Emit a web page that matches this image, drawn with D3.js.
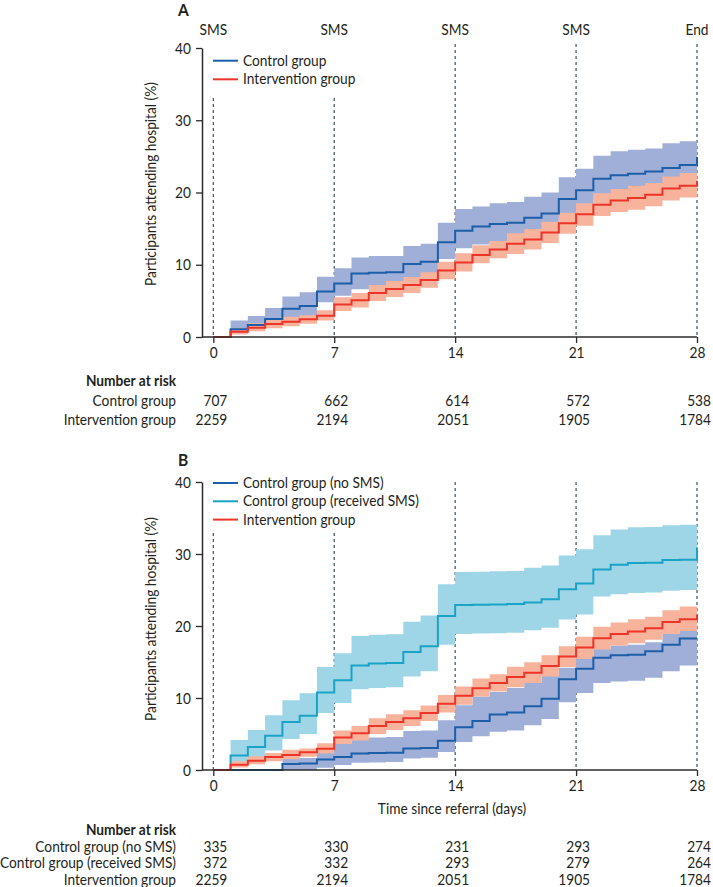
<!DOCTYPE html>
<html><head><meta charset="utf-8">
<script src="https://cdn.jsdelivr.net/npm/d3@7"></script>
<style>
body{margin:0;background:#fff;}
svg text{font-family:Lato,"Open Sans",Arial,sans-serif;fill:#231f20;}
</style></head>
<body>
<svg id="c" width="713" height="887"></svg>
<script>
// ---- data ----
const days = [0,1,2,3,4,5,6,7,8,9,10,11,12,13,14,15,16,17,18,19,20,21,22,23,24,25,26,27,28];
const tickDays = [0,7,14,21,28];
const yTicks = [0,10,20,30,40];
const topLabels = ["SMS","SMS","SMS","SMS","End"];

// Panel A: control group
const ctrl     = [0,1.07,1.66,2.5,3.9,4.3,6.3,7.4,8.8,8.9,8.95,10.1,10.4,13.1,14.7,15.3,15.65,15.8,16.5,17.1,19.1,20.3,21.9,22.4,22.6,22.9,23.4,23.8,24.9];
const ctrlHi   = [0,2.3,2.9,4.0,5.6,6.2,8.35,9.5,11.0,11.2,11.2,12.6,12.9,15.8,17.7,18.05,18.5,18.7,19.4,20.0,22.1,23.3,25.1,25.7,25.9,26.1,26.8,27.1,27.1];
const ctrlLo   = [0,0.5,0.9,1.5,2.35,2.7,4.8,5.7,6.6,6.7,6.8,7.6,7.9,10.8,12.3,12.8,13.1,13.3,14.0,14.5,16.4,17.6,19.0,19.5,19.7,20.0,20.4,20.8,20.8];
// Intervention group (both panels)
const interv   = [0,0.73,1.29,1.8,2.1,2.45,2.95,4.5,5.1,6.1,6.65,7.2,7.9,9.2,10.3,11.35,12.1,12.9,13.5,14.45,15.75,17.0,18.3,18.9,19.25,19.7,20.55,20.95,21.6];
const intervHi = [0,1.2,1.9,2.35,2.8,3.0,3.7,5.5,6.1,7.2,7.75,8.3,8.95,10.4,11.6,12.7,13.3,14.35,14.95,15.95,17.2,18.5,19.9,20.5,20.95,21.3,22.2,22.7,22.7];
const intervLo = [0,0.35,0.8,1.2,1.5,1.85,2.3,3.6,4.1,5.0,5.55,6.1,6.8,8.0,9.05,10.2,10.9,11.5,12.1,13.0,14.3,15.4,16.75,17.3,17.6,18.1,18.9,19.3,19.3];
// Panel B: control group, no SMS
const noSms    = [0,0,0,0,0.85,0.9,1.45,1.8,2.3,2.35,2.4,3.0,3.05,4.05,5.95,6.8,7.7,8.0,8.85,9.9,12.6,14.05,15.6,15.95,16.0,16.5,17.4,18.25,18.25];
const noSmsHi  = [0,0,0,0,1.6,1.65,2.5,3.7,4.3,4.5,4.6,5.4,5.5,6.9,9.0,10.2,10.85,11.4,12.1,13.1,14.2,15.5,16.8,17.3,17.4,17.75,19.05,19.4,19.4];
const noSmsLo  = [0,0,0,0,0,0,0.3,0.7,1.0,1.05,1.1,1.6,1.7,2.5,3.9,4.7,5.3,5.5,6.2,7.1,9.4,10.7,12.1,12.3,12.4,12.8,13.7,14.5,14.5];
// Panel B: control group, received SMS
const rcvSms   = [0,2.0,3.2,4.75,6.65,7.55,10.75,12.45,14.5,14.8,14.85,16.4,17.2,21.4,22.9,22.95,23.0,23.05,23.25,23.7,25.1,25.9,27.85,28.5,28.75,28.8,29.15,29.2,30.9];
const rcvSmsHi = [0,4.15,5.55,7.6,9.7,10.65,14.3,16.2,18.6,18.8,18.85,20.6,21.45,25.8,27.5,27.55,27.6,27.65,28.1,28.4,29.8,30.65,32.6,33.4,33.7,33.75,34.0,34.05,34.05];
const rcvSmsLo = [0,0.8,1.8,2.7,4.3,5.0,7.9,9.3,11.2,11.4,11.5,13.0,13.7,17.4,18.9,18.95,19.0,19.05,19.4,19.75,20.9,21.6,24.1,24.4,24.6,24.65,24.9,25.0,25.0];

// Number at risk
const riskA_labels = ["Control group","Intervention group"];
const riskA = [[707,662,614,572,538],[2259,2194,2051,1905,1784]];
const riskB_labels = ["Control group (no SMS)","Control group (received SMS)","Intervention group"];
const riskB = [[335,330,231,293,274],[372,332,293,279,264],[2259,2194,2051,1905,1784]];

// ---- drawing ----
const svg = d3.select("#c");
const FS = 15;
const probe = svg.append("text").attr("font-size",FS).text("Control group");
const SX = 83.5 / probe.node().getComputedTextLength();
probe.remove();

function txt(g, x, y, s, anchor, extra){
  return g.append("text").attr("transform",`translate(${x},${y})${extra||""} scale(${SX},1)`)
    .attr("text-anchor",anchor||"start").attr("font-size",FS).text(s);
}

const x = d3.scaleLinear().domain([0,28]).range([213.3,697]);
const AX = 202;
const C = {
  blue:"#1c5ea8", blueBand:"#9fafd8",
  red:"#ec3528", redBand:"#f8b39d",
  cyan:"#1aa3c6", cyanBand:"#9ed6e7",
  dash:"#3d505c", axis:"#2b2b2b"
};

function panel(opt){
  const y = d3.scaleLinear().domain([0,40]).range([opt.y0, opt.y40]);
  const g = svg.append("g");
  txt(g,178,opt.letterY,opt.letter).attr("font-size",17).attr("font-weight","bold");
  tickDays.forEach((d,i)=>{
    const top = (i<2) ? opt.dashTopLow : opt.dashTop;
    g.append("line").attr("x1",x(d)).attr("x2",x(d)).attr("y1",top).attr("y2",opt.y0)
      .attr("stroke",C.dash).attr("stroke-width",1.2).attr("stroke-dasharray","3,3");
  });
  if(opt.topLabels){
    tickDays.forEach((d,i)=> txt(g,x(d),35,topLabels[i],"middle"));
  }
  opt.series.forEach(s=>{
    const area = d3.area().x((d,i)=>x(days[i])).y0((d,i)=>y(s.lo[i])).y1((d,i)=>y(s.hi[i])).curve(d3.curveStepAfter);
    g.append("path").datum(s.v).attr("d",area).attr("fill",s.band);
  });
  opt.series.forEach(s=>{
    const line = d3.line().x((d,i)=>x(days[i])).y(d=>y(d)).curve(d3.curveStepAfter);
    g.append("path").datum(s.v).attr("d",line).attr("fill","none").attr("stroke",s.color).attr("stroke-width",2);
  });
  const ya = g.append("g").attr("transform",`translate(${AX},0)`)
    .call(d3.axisLeft(y).tickValues(yTicks).tickSize(6).tickSizeOuter(0));
  ya.select(".domain").attr("stroke",C.axis).attr("stroke-width",1.5);
  ya.selectAll(".tick line").attr("stroke",C.axis).attr("stroke-width",1.3);
  ya.selectAll(".tick text").each(function(){
    const s=d3.select(this).text(); const p=this.parentNode;
    d3.select(this).remove(); txt(d3.select(p),-11,5,s,"end");
  });
  const xa = g.append("g").attr("transform",`translate(0,${opt.y0})`)
    .call(d3.axisBottom(x).tickValues(tickDays).tickSize(6).tickSizeOuter(0));
  xa.select(".domain").remove();
  xa.selectAll(".tick line").attr("stroke",C.axis).attr("stroke-width",1.3);
  xa.selectAll(".tick text").each(function(){
    const s=d3.select(this).text(); const p=this.parentNode;
    d3.select(this).remove(); txt(d3.select(p),0,21,s,"middle");
  });
  g.append("line").attr("x1",AX).attr("x2",697).attr("y1",opt.y0).attr("y2",opt.y0).attr("stroke",C.axis).attr("stroke-width",1.5);
  txt(g,156,opt.titleY,"Participants attending hospital (%)","middle"," rotate(-90)");
  opt.series.forEach((s,i)=>{
    const ly = opt.legY + i*opt.legStep;
    g.append("line").attr("x1",213).attr("x2",238).attr("y1",ly).attr("y2",ly).attr("stroke",s.color).attr("stroke-width",2);
    txt(g,243,ly+5,s.name);
  });
  txt(g,176,opt.riskY,"Number at risk","end").attr("font-weight","bold");
  opt.riskLabels.forEach((lab,r)=>{
    const ry = opt.riskY + opt.rowH*(r+1);
    txt(g,176,ry,lab,"end");
    opt.risk[r].forEach((n,k)=> txt(g,x(tickDays[k])+14,ry,n,"end"));
  });
  return y;
}

panel({letter:"A", letterY:16, y0:337, y40:48, dashTop:44, dashTopLow:98, topLabels:true,
  legY:60.7, legStep:18.6, titleY:184,
  series:[
    {name:"Control group", v:ctrl, hi:ctrlHi, lo:ctrlLo, color:C.blue, band:C.blueBand},
    {name:"Intervention group", v:interv, hi:intervHi, lo:intervLo, color:C.red, band:C.redBand}
  ],
  riskY:386, rowH:19.5, riskLabels:riskA_labels, risk:riskA});

panel({letter:"B", letterY:466, y0:770, y40:482, dashTop:482, dashTopLow:533, topLabels:false,
  legY:483, legStep:18.3, titleY:619,
  series:[
    {name:"Control group (no SMS)", v:noSms, hi:noSmsHi, lo:noSmsLo, color:C.blue, band:C.blueBand},
    {name:"Control group (received SMS)", v:rcvSms, hi:rcvSmsHi, lo:rcvSmsLo, color:C.cyan, band:C.cyanBand},
    {name:"Intervention group", v:interv, hi:intervHi, lo:intervLo, color:C.red, band:C.redBand}
  ],
  riskY:835, rowH:16.5, riskLabels:riskB_labels, risk:riskB});

txt(svg,452,814,"Time since referral (days)","middle");
</script>
</body></html>
